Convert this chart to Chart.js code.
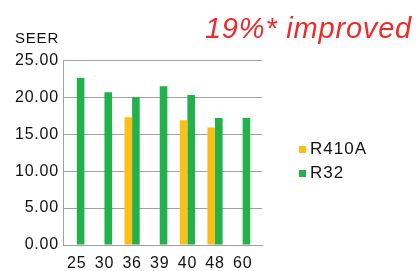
<!DOCTYPE html>
<html>
<head>
<meta charset="utf-8">
<script src="https://cdn.jsdelivr.net/npm/chart.js@4/dist/chart.umd.min.js"></script>
<style>
  html, body { margin: 0; padding: 0; background: #ffffff; }
  #wrap { width: 417px; height: 271px; }
</style>
</head>
<body>
<div id="wrap"><canvas id="seerChart" width="417" height="271"></canvas></div>
<script>
// Capacity classes on the x axis and SEER values
const capacities = ['25', '30', '36', '39', '40', '48', '60'];
const r410aSeer = [null, null, 17.3, null, 16.9, 15.9, null];
const r32Seer = [22.6, 20.7, 20.0, 21.5, 20.3, 17.2, 17.2];
const seerTicks = [0, 5, 10, 15, 20, 25];

const GREEN = '#21b24b';
const ORANGE = '#fcbf16';
const GRID = '#a0a0a0';
const FONT = "'Liberation Sans', Arial, sans-serif";

Chart.defaults.font.family = FONT;
Chart.defaults.color = '#111111';

function toPoints(values) {
    return values.map((v, i) => ({ x: i, y: v }));
}

// The original artwork uses a slightly tracked-out Helvetica
const tracking = {
    id: 'tracking',
    beforeDraw(chart, args, opts) {
        chart.ctx.letterSpacing = opts.spacing;
    },
    afterDraw(chart) {
        chart.ctx.letterSpacing = '0px';
    }
};

// The built-in legend sits flush against the plot, here it floats off to the right
const sideLegend = {
    id: 'sideLegend',
    afterDraw(chart, args, opts) {
        const ctx = chart.ctx;
        ctx.save();
        ctx.font = `${opts.fontSize}px ${FONT}`;
        ctx.letterSpacing = opts.spacing;
        ctx.textBaseline = 'middle';
        ctx.textAlign = 'left';
        chart.data.datasets.forEach((ds, i) => {
            const y = opts.top + i * opts.rowGap;
            ctx.fillStyle = ds.backgroundColor;
            ctx.fillRect(opts.left, y - opts.box / 2, opts.box, opts.box);
            ctx.fillStyle = opts.color;
            ctx.fillText(ds.label, opts.left + opts.box + opts.gap, y);
        });
        ctx.restore();
    }
};

const config = {
    type: 'bar',
    data: {
        datasets: [
            {
                label: 'R410A',
                data: toPoints(r410aSeer),
                backgroundColor: ORANGE,
                borderWidth: 0
            },
            {
                label: 'R32',
                data: toPoints(r32Seer),
                backgroundColor: GREEN,
                borderWidth: 0
            }
        ]
    },
    options: {
        responsive: false,
        animation: false,
        layout: { padding: { left: 15, right: 5, top: 0, bottom: 0 } },
        datasets: {
            bar: { categoryPercentage: 0.55, barPercentage: 1.0 }
        },
        plugins: {
            title: {
                display: true,
                text: '19%* improved',
                align: 'end',
                color: '#ee2b2b',
                font: { size: 29, style: 'italic', weight: 'normal' },
                padding: { top: 13, bottom: -18.4 }
            },
            subtitle: {
                display: true,
                text: 'SEER',
                align: 'start',
                color: '#111111',
                font: { size: 15 },
                padding: { top: 0, bottom: 13 }
            },
            legend: { display: false },
            tracking: { spacing: '0.8px' },
            sideLegend: {
                left: 299,
                top: 149.5,
                rowGap: 24,
                box: 7,
                gap: 4,
                fontSize: 17,
                spacing: '1px',
                color: '#111111'
            },
            tooltip: { enabled: false }
        },
        scales: {
            x: {
                type: 'linear',
                offset: false,
                bounds: 'data',
                min: -0.5,
                max: 6.7,
                afterDataLimits: (scale) => {
                    scale.min = -0.5;
                    scale.max = 6.7;
                },
                afterBuildTicks: (scale) => {
                    scale.ticks = capacities.map((_, i) => ({ value: i }));
                },
                afterFit: (scale) => { scale.height = 26; },
                grid: { display: false, drawTicks: false },
                border: { display: true, color: GRID, width: 1 },
                ticks: {
                    padding: 9,
                    font: { size: 16 },
                    color: '#111111',
                    callback: (value) => capacities[value]
                }
            },
            y: {
                min: 0,
                max: 25,
                afterBuildTicks: (scale) => {
                    scale.ticks = seerTicks.map(v => ({ value: v }));
                },
                afterFit: (scale) => { scale.width = 48; },
                grid: { color: GRID, drawTicks: false, lineWidth: 1 },
                border: { display: true, color: GRID, width: 1 },
                ticks: {
                    padding: 4,
                    font: { size: 16 },
                    color: '#111111',
                    callback: (value) => Number(value).toFixed(2)
                }
            },
            // empty axis that keeps the room on the right for the legend
            legendRoom: {
                type: 'linear',
                position: 'right',
                grid: { display: false },
                border: { display: false },
                ticks: { display: false },
                afterFit: (scale) => { scale.width = 150; }
            }
        }
    },
    plugins: [tracking, sideLegend]
};

const chart = new Chart(document.getElementById('seerChart'), config);
</script>
</body>
</html>
